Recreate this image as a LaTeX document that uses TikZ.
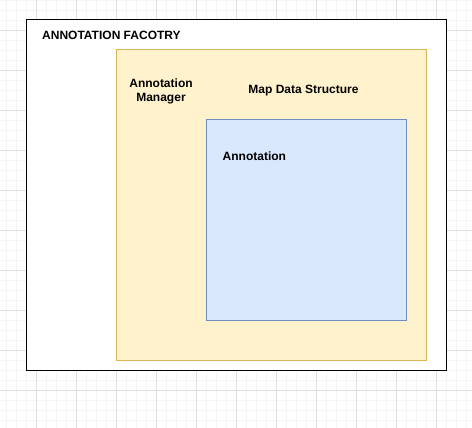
\documentclass[tikz,border=0pt]{standalone}
\usepackage{fontspec}
\setmainfont{Liberation Sans}
\definecolor{mapfill}{HTML}{FFF2CC}
\definecolor{mapline}{HTML}{D6B656}
\definecolor{annfill}{HTML}{DAE8FC}
\definecolor{annline}{HTML}{6C8EBF}
\begin{document}
\begin{tikzpicture}[x=1pt,y=-1pt]
    \tikzstyle{minor}=[draw,line width=.8pt,black!4]
    \tikzstyle{major}=[draw,line width=.8pt,black!12]
    \tikzstyle{box}=[draw,rectangle,inner sep=0pt]
    \tikzstyle{factory}=[box,fill=white,draw=black,line width=1pt,minimum width=420pt,minimum height=350pt]
    \tikzstyle{mapbox}=[box,fill=mapfill,draw=mapline,line width=1pt,minimum width=310pt,minimum height=310pt]
    \tikzstyle{annbox}=[box,fill=annfill,draw=annline,line width=1pt,minimum width=200pt,minimum height=200pt]
    \tikzstyle{label}=[inner sep=0pt,font=\fontsize{12}{14}\selectfont\bfseries,align=center]
    \fill[white] (0,0) rectangle (472,428);
    \useasboundingbox (0,0) rectangle (472,428);
    % grid
    \foreach \x in {6,16,...,466} \draw[minor] (\x,0) -- (\x,428);
    \foreach \y in {0,10,...,420} \draw[minor] (0,\y) -- (472,\y);
    \foreach \x in {36,76,...,436} \draw[major] (\x,0) -- (\x,428);
    \foreach \y in {30,70,...,390} \draw[major] (0,\y) -- (472,\y);
    % boxes
    \node[factory] (fac) at (236,195) {};
    \node[mapbox] (map) at (271,205) {};
    \node[annbox] (ann) at (306,220) {};
    % labels
    \node[label,anchor=west] (facl) at (42,35) {ANNOTATION FACOTRY};
    \node[label] (mgrl) at (161,91) {Annotation\\Manager};
    \node[label] (mapl) at (303.5,91) {Map Data Structure};
    \node[label,anchor=west] (annl) at (222.5,156) {Annotation};
\end{tikzpicture}
\end{document}
